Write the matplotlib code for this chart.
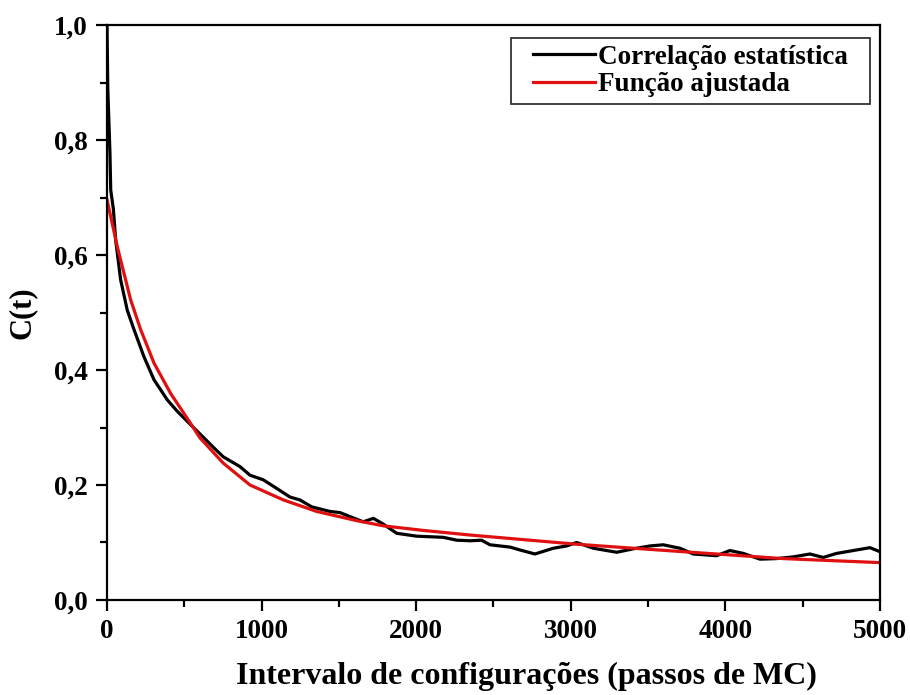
import matplotlib

matplotlib.use('Agg')
import matplotlib.pyplot as plt
from matplotlib.path import Path
from matplotlib.ticker import MultipleLocator, FuncFormatter

matplotlib.rcParams['font.family'] = 'Liberation Serif'
matplotlib.rcParams['font.weight'] = 'bold'
matplotlib.rcParams['font.size'] = 19

# correlação estatística medida (passos de MC, C(t))
t_corr = [0, 5, 19, 24, 41, 56, 88, 131, 175, 239, 304, 390, 455, 563, 623,
          690, 752, 860, 925, 1011, 1098, 1184, 1248, 1324, 1442, 1507, 1572,
          1658, 1723, 1787, 1874, 2003, 2175, 2262, 2348, 2423, 2477, 2607,
          2671, 2768, 2887, 2973, 3038, 3146, 3297, 3404, 3512, 3598, 3706,
          3792, 3943, 4029, 4116, 4224, 4331, 4439, 4547, 4633, 4719, 4827,
          4935, 5000]
c_corr = [1.0, 0.89, 0.777, 0.713, 0.68, 0.626, 0.557, 0.504, 0.47, 0.423,
          0.383, 0.348, 0.328, 0.299, 0.283, 0.265, 0.249, 0.232, 0.217,
          0.209, 0.194, 0.179, 0.174, 0.162, 0.154, 0.152, 0.145, 0.136,
          0.142, 0.132, 0.116, 0.111, 0.109, 0.104, 0.103, 0.104, 0.096,
          0.092, 0.087, 0.080, 0.090, 0.094, 0.100, 0.090, 0.083, 0.089,
          0.094, 0.096, 0.090, 0.080, 0.077, 0.086, 0.081, 0.071, 0.072,
          0.075, 0.080, 0.074, 0.081, 0.086, 0.091, 0.084]

# função ajustada
t_fit = [0, 67, 110, 153, 218, 304, 412, 541, 601, 752, 925, 1141, 1356,
         1615, 1787, 2046, 2348, 2477, 3038, 3512, 3727, 4374, 5000]
c_fit = [0.696, 0.614, 0.568, 0.522, 0.470, 0.412, 0.359, 0.307, 0.282,
         0.238, 0.200, 0.174, 0.154, 0.138, 0.129, 0.121, 0.113, 0.110,
         0.097, 0.088, 0.084, 0.072, 0.065]


def wide_box(x0, y0, width, height, mutation_size):
    # legend frame with extra room left and right only
    px = 0.55 * mutation_size
    x1, y1 = x0 + width + px, y0 + height
    x0 = x0 - px
    return Path([(x0, y0), (x1, y0), (x1, y1), (x0, y1), (x0, y0)], closed=True)


fig = plt.figure(figsize=(9.1, 6.95), dpi=100)
ax = fig.add_axes([0.1176, 0.1367, 0.8494, 0.8273])

ax.plot(t_corr, c_corr, color='black', linewidth=2.3,
        label='Correlação estatística')
ax.plot(t_fit, c_fit, color='#e01010', linewidth=2.3, label='Função ajustada')

ax.set_xlim(0, 5000)
ax.set_ylim(0, 1.0)
ax.xaxis.set_major_locator(MultipleLocator(1000))
ax.xaxis.set_minor_locator(MultipleLocator(500))
ax.yaxis.set_major_locator(MultipleLocator(0.2))
ax.yaxis.set_minor_locator(MultipleLocator(0.1))
ax.yaxis.set_major_formatter(FuncFormatter(lambda v, p: f'{v:.1f}'.replace('.', ',')))

ax.tick_params(which='major', direction='out', length=8, width=1.6,
               labelsize=19.5, pad=6)
ax.tick_params(which='minor', direction='out', length=5, width=1.6)
for s in ax.spines.values():
    s.set_linewidth(1.6)

ax.set_xlabel('Intervalo de configurações (passos de MC)', fontsize=23,
              fontweight='bold')
ax.xaxis.set_label_coords(0.542, -0.108)
ax.set_ylabel('C(t)', fontsize=22, fontweight='bold', labelpad=12)

leg = ax.legend(loc='upper right', bbox_to_anchor=(0.9677, 0.9774),
                fontsize=19.5, frameon=True, fancybox=False,
                edgecolor='black', handlelength=2.3, handletextpad=0.12,
                borderaxespad=0, borderpad=0.25, labelspacing=0.1)
leg.get_frame().set_linewidth(1.3)
leg.get_frame().set_boxstyle(wide_box)

fig.savefig('out.png', dpi=100)
